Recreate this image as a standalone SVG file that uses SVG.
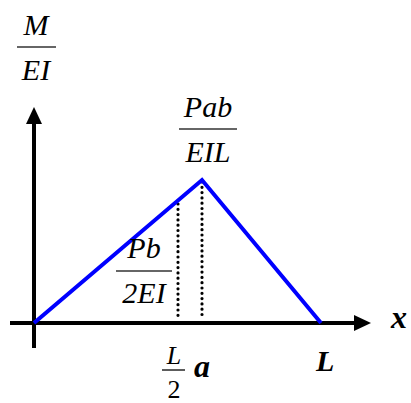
<svg xmlns="http://www.w3.org/2000/svg" width="411" height="403" viewBox="0 0 411 403">
<defs>
<style>
text{font-family:'Liberation Serif','Times New Roman',Times,serif;fill:#000}
.t{font-style:italic;text-anchor:middle}
.u{text-anchor:middle}
.b{font-style:italic;font-weight:bold}
.fr{stroke:#333;stroke-width:1.6}
.ax{stroke:#000;stroke-width:4;fill:none}
.dot{stroke:#000;stroke-width:3.2;stroke-dasharray:0 5.3;stroke-linecap:round;fill:none}
</style>
</defs>
<rect width="411" height="403" fill="#fff"/>
<g id="axes">
<line class="ax" x1="34" y1="122" x2="34" y2="348"/>
<polygon points="34,107 26,124 42,124" fill="#000"/>
<line class="ax" x1="10" y1="323" x2="356" y2="323"/>
<polygon points="371,323 354,315 354,331" fill="#000"/>
</g>
<g id="connectors">
<line class="dot" x1="178" y1="204" x2="178" y2="318"/>
<line class="dot" x1="202" y1="182" x2="202" y2="318"/>
<polyline points="34,323 202,180 321,323" fill="none" stroke="#0000ff" stroke-width="4" stroke-linejoin="miter"/>
</g>
<g id="label-M-EI">
<text class="t" x="36" y="35" font-size="30">M</text>
<line class="fr" x1="17" y1="47" x2="56" y2="47"/>
<text class="t" x="36" y="80" font-size="30">EI</text>
</g>
<g id="label-Pab-EIL">
<text class="t" x="208" y="117" font-size="30">Pab</text>
<line class="fr" x1="179" y1="129" x2="237" y2="129"/>
<text class="t" x="208" y="162" font-size="30">EIL</text>
</g>
<g id="label-Pb-2EI">
<text class="t" x="144" y="258" font-size="30">Pb</text>
<line class="fr" x1="116" y1="271" x2="172" y2="271"/>
<text class="t" x="144" y="303" font-size="30">2EI</text>
</g>
<g id="label-L-2">
<text class="t" x="174" y="364" font-size="26">L</text>
<line class="fr" x1="162" y1="370" x2="185" y2="370"/>
<text class="u" x="174" y="398" font-size="26">2</text>
</g>
<g id="label-a"><text class="b" x="194" y="377" font-size="32">a</text></g>
<g id="label-L"><text class="b" x="316" y="371" font-size="30">L</text></g>
<g id="label-x"><text class="b" x="391" y="328" font-size="32">x</text></g>
</svg>
